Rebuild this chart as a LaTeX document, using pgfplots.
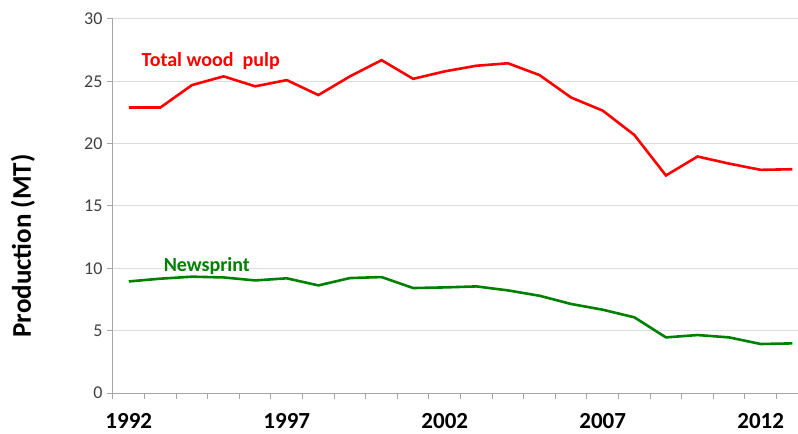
\documentclass[border=0pt]{standalone}
\usepackage{pgfplots}
\pgfplotsset{compat=1.18}
\usepackage{fontspec}
\setmainfont{Carlito}
\definecolor{pulpred}{RGB}{255,0,0}
\definecolor{newsgreen}{RGB}{0,128,0}
\definecolor{axgray}{RGB}{166,166,166}
\definecolor{gridgray}{RGB}{220,220,220}
\definecolor{ticktext}{RGB}{64,64,64}
\begin{document}
\begin{tikzpicture}
\useasboundingbox (-113bp,-41bp) rectangle (685bp,393bp);
\begin{axis}[
  at={(0,0)}, anchor=south west,
  scale only axis,
  width=685bp, height=374bp,
  xmin=1991.5, xmax=2013.18,
  ymin=0, ymax=30,
  axis lines*=left,
  axis line style={axgray, line width=1bp},
  x axis line style={-}, y axis line style={-},
  ytick={0,5,...,30},
  ymajorgrids,
  grid style={gridgray, line width=1bp},
  xtick={1992,1997,2002,2007,2012},
  minor xtick={1991.5,1992.5,...,2013},
  major x tick style={draw=none},
  minor x tick style={axgray, line width=1bp},
  y tick style={axgray, line width=1bp},
  tick align=outside,
  major tick length=6bp, minor tick length=6bp,
  /pgf/number format/assume math mode=true,
  /pgf/number format/1000 sep={},
  xticklabel style={font=\fontsize{23bp}{26bp}\selectfont\bfseries, text=black, inner sep=0pt, yshift=-14bp},
  yticklabel style={font=\fontsize{18bp}{20bp}\selectfont, text=ticktext, xshift=-1bp},
  clip=false,
]
\addplot[pulpred, line width=2.6bp] coordinates {
(1992,22.9) (1993,22.9) (1994,24.7) (1995,25.4) (1996,24.6) (1997,25.1)
(1998,23.9) (1999,25.4) (2000,26.7) (2001,25.2) (2002,25.8) (2003,26.25)
(2004,26.45) (2005,25.5) (2006,23.7) (2007,22.65) (2008,20.7) (2009,17.45)
(2010,18.97) (2011,18.4) (2012,17.9) (2013,17.95)};
\addplot[newsgreen, line width=2.6bp] coordinates {
(1992,8.95) (1993,9.17) (1994,9.33) (1995,9.27) (1996,9.03) (1997,9.2)
(1998,8.63) (1999,9.22) (2000,9.3) (2001,8.42) (2002,8.47) (2003,8.55)
(2004,8.23) (2005,7.8) (2006,7.14) (2007,6.68) (2008,6.07) (2009,4.46)
(2010,4.65) (2011,4.46) (2012,3.93) (2013,3.98)};
\node[anchor=base west, text=pulpred, font=\fontsize{20bp}{22bp}\selectfont\bfseries, inner sep=0pt] at (axis cs:1992.4,26.2) {Total wood\ \ pulp};
\node[anchor=base west, text=newsgreen, font=\fontsize{20bp}{22bp}\selectfont\bfseries, inner sep=0pt] at (axis cs:1993.1,9.78) {Newsprint};
\path (rel axis cs:0,0.5) ++(-90bp,-40bp) node[rotate=90, anchor=center, inner sep=0pt, font=\fontsize{27bp}{30bp}\selectfont\bfseries] {Production (MT)};
\end{axis}
\end{tikzpicture}
\end{document}
